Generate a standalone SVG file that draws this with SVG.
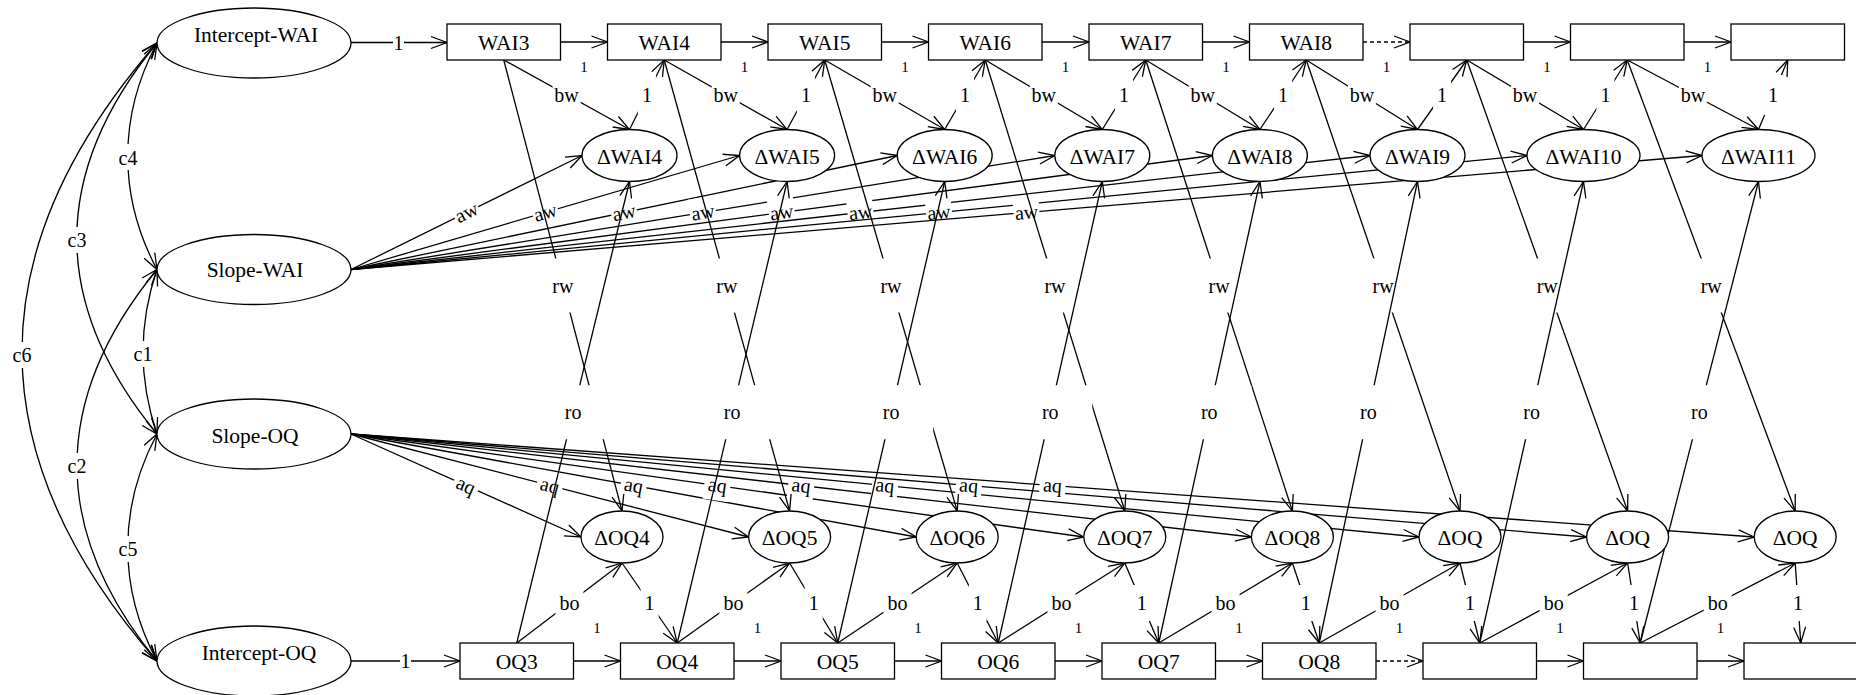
<svg xmlns="http://www.w3.org/2000/svg" width="1856" height="695" viewBox="0 0 1856 695">
<defs>
<marker id="ah" viewBox="0 0 18 14" refX="17" refY="7" markerWidth="18" markerHeight="14" markerUnits="userSpaceOnUse" orient="auto-start-reverse" overflow="visible"><path d="M1,1 L17,7 L1,13" fill="none" stroke="#000" stroke-width="1.3"/></marker>
</defs>
<style>
.e{stroke:#000;stroke-width:1.3;fill:none}
.a{marker-end:url(#ah)}
.b{marker-start:url(#ah);marker-end:url(#ah)}
.d{stroke-dasharray:4,3}
.n{fill:#fff;stroke:#000;stroke-width:1.3}
.bg{fill:#fff;stroke:none}
text{font-family:"Liberation Serif","Times New Roman",serif;font-size:20px;text-anchor:middle;fill:#000}
.nt{font-size:21.5px}
.s{font-size:15px}
</style>
<rect width="1856" height="695" fill="#fff"/>
<g id="connectors">
<!-- covariances -->
<path class="e b" d="M157,43 C118,116 118,196.5 157,269.5"/>
<path class="e b" d="M157,269.5 C138.3,324.5 138.3,379 157,434"/>
<path class="e b" d="M157,434 C118,507 118,588 157,661"/>
<path class="e b" d="M157,43 C50.3,173 50.3,304 157,434"/>
<path class="e b" d="M157,269.5 C50.3,399.5 50.3,531 157,661"/>
<path class="e b" d="M157,43 C-23,249 -23,455 157,661"/>
<rect class="bg" x="116" y="144" width="24" height="26"/><text x="128" y="165">c4</text>
<rect class="bg" x="131" y="341" width="24" height="26"/><text x="143" y="361">c1</text>
<rect class="bg" x="116" y="536" width="24" height="26"/><text x="128" y="556">c5</text>
<rect class="bg" x="65" y="227" width="24" height="26"/><text x="77" y="247">c3</text>
<rect class="bg" x="65" y="453" width="24" height="26"/><text x="77" y="473">c2</text>
<rect class="bg" x="10" y="342" width="24" height="26"/><text x="22" y="362">c6</text>
<!-- intercept loadings -->
<line class="e a" x1="351" y1="42.5" x2="447" y2="42.5"/>
<rect class="bg" x="393" y="30" width="11" height="25"/><text x="398.5" y="49.5">1</text>
<line class="e a" x1="351" y1="661" x2="460" y2="661"/>
<rect class="bg" x="400" y="648" width="11" height="25"/><text x="405.5" y="668">1</text>
<!-- top chain -->
<line class="e a" x1="560.5" y1="42" x2="607.5" y2="42"/>
<line class="e a" x1="721" y1="42" x2="768" y2="42"/>
<line class="e a" x1="881.5" y1="42" x2="928.5" y2="42"/>
<line class="e a" x1="1042" y1="42" x2="1089" y2="42"/>
<line class="e a" x1="1202.5" y1="42" x2="1249.5" y2="42"/>
<line class="e a d" x1="1363" y1="42" x2="1410" y2="42"/>
<line class="e a" x1="1523.5" y1="42" x2="1570.5" y2="42"/>
<line class="e a" x1="1684" y1="42" x2="1731" y2="42"/>
<text class="s" x="584" y="72">1</text><text class="s" x="744.5" y="72">1</text><text class="s" x="905" y="72">1</text><text class="s" x="1065.5" y="72">1</text><text class="s" x="1226" y="72">1</text><text class="s" x="1386.5" y="72">1</text><text class="s" x="1547" y="72">1</text><text class="s" x="1707.5" y="72">1</text>
<!-- bottom chain -->
<line class="e a" x1="573.5" y1="661" x2="620.5" y2="661"/>
<line class="e a" x1="734" y1="661" x2="781" y2="661"/>
<line class="e a" x1="894.5" y1="661" x2="941.5" y2="661"/>
<line class="e a" x1="1055" y1="661" x2="1102" y2="661"/>
<line class="e a" x1="1215.5" y1="661" x2="1262.5" y2="661"/>
<line class="e a d" x1="1376" y1="661" x2="1423" y2="661"/>
<line class="e a" x1="1536.5" y1="661" x2="1583.5" y2="661"/>
<line class="e a" x1="1697" y1="661" x2="1744" y2="661"/>
<text class="s" x="597" y="633">1</text><text class="s" x="757.5" y="633">1</text><text class="s" x="918" y="633">1</text><text class="s" x="1078.5" y="633">1</text><text class="s" x="1239" y="633">1</text><text class="s" x="1399.5" y="633">1</text><text class="s" x="1560" y="633">1</text><text class="s" x="1720.5" y="633">1</text>
<!-- aw -->
<line class="e a" x1="351" y1="269.5" x2="582" y2="155.5"/>
<g transform="translate(466.5,212.5) rotate(-26.27)"><rect class="bg" x="-13" y="-15" width="26" height="30"/><text y="6.5">aw</text></g>
<line class="e a" x1="351" y1="269.5" x2="739.6" y2="155.5"/>
<g transform="translate(545.3,212.5) rotate(-16.35)"><rect class="bg" x="-13" y="-15" width="26" height="30"/><text y="6.5">aw</text></g>
<line class="e a" x1="351" y1="269.5" x2="897.2" y2="155.5"/>
<g transform="translate(624.1,212.5) rotate(-11.79)"><rect class="bg" x="-13" y="-15" width="26" height="30"/><text y="6.5">aw</text></g>
<line class="e a" x1="351" y1="269.5" x2="1054.8" y2="155.5"/>
<g transform="translate(702.9,212.5) rotate(-9.2)"><rect class="bg" x="-13" y="-15" width="26" height="30"/><text y="6.5">aw</text></g>
<line class="e a" x1="351" y1="269.5" x2="1212.4" y2="155.5"/>
<g transform="translate(781.7,212.5) rotate(-7.54)"><rect class="bg" x="-13" y="-15" width="26" height="30"/><text y="6.5">aw</text></g>
<line class="e a" x1="351" y1="269.5" x2="1370" y2="155.5"/>
<g transform="translate(860.5,212.5) rotate(-6.38)"><rect class="bg" x="-13" y="-15" width="26" height="30"/><text y="6.5">aw</text></g>
<line class="e a" x1="351" y1="269.5" x2="1527" y2="155.5"/>
<g transform="translate(939,212.5) rotate(-5.54)"><rect class="bg" x="-13" y="-15" width="26" height="30"/><text y="6.5">aw</text></g>
<line class="e a" x1="351" y1="269.5" x2="1702" y2="155.5"/>
<g transform="translate(1026.5,212.5) rotate(-4.82)"><rect class="bg" x="-13" y="-15" width="26" height="30"/><text y="6.5">aw</text></g>
<!-- aq -->
<line class="e a" x1="351" y1="434" x2="581" y2="537"/>
<g transform="translate(466,485.5) rotate(24.12)"><rect class="bg" x="-13" y="-15" width="26" height="30"/><text y="6.5">aq</text></g>
<line class="e a" x1="351" y1="434" x2="748.6" y2="537"/>
<g transform="translate(549.8,485.5) rotate(14.52)"><rect class="bg" x="-13" y="-15" width="26" height="30"/><text y="6.5">aq</text></g>
<line class="e a" x1="351" y1="434" x2="916.2" y2="537"/>
<g transform="translate(633.6,485.5) rotate(10.33)"><rect class="bg" x="-13" y="-15" width="26" height="30"/><text y="6.5">aq</text></g>
<line class="e a" x1="351" y1="434" x2="1083.8" y2="537"/>
<g transform="translate(717.4,485.5) rotate(8)"><rect class="bg" x="-13" y="-15" width="26" height="30"/><text y="6.5">aq</text></g>
<line class="e a" x1="351" y1="434" x2="1251.4" y2="537"/>
<g transform="translate(801.2,485.5) rotate(6.53)"><rect class="bg" x="-13" y="-15" width="26" height="30"/><text y="6.5">aq</text></g>
<line class="e a" x1="351" y1="434" x2="1419" y2="537"/>
<g transform="translate(885,485.5) rotate(5.51)"><rect class="bg" x="-13" y="-15" width="26" height="30"/><text y="6.5">aq</text></g>
<line class="e a" x1="351" y1="434" x2="1586.6" y2="537"/>
<g transform="translate(968.8,485.5) rotate(4.76)"><rect class="bg" x="-13" y="-15" width="26" height="30"/><text y="6.5">aq</text></g>
<line class="e a" x1="351" y1="434" x2="1754.2" y2="537"/>
<g transform="translate(1052.6,485.5) rotate(4.2)"><rect class="bg" x="-13" y="-15" width="26" height="30"/><text y="6.5">aq</text></g>
<!-- bw -->
<line class="e a" x1="503.75" y1="60" x2="629.5" y2="129.5"/>
<line class="e a" x1="664.25" y1="60" x2="787.1" y2="129.5"/>
<line class="e a" x1="824.75" y1="60" x2="944.7" y2="129.5"/>
<line class="e a" x1="985.25" y1="60" x2="1102.3" y2="129.5"/>
<line class="e a" x1="1145.75" y1="60" x2="1259.9" y2="129.5"/>
<line class="e a" x1="1306.25" y1="60" x2="1417.5" y2="129.5"/>
<line class="e a" x1="1466.75" y1="60" x2="1583.5" y2="129.5"/>
<line class="e a" x1="1627.25" y1="60" x2="1758.5" y2="129.5"/>
<rect class="bg" x="552.6" y="75" width="28" height="40"/><text x="566.6" y="101.5">bw</text>
<rect class="bg" x="711.7" y="75" width="28" height="40"/><text x="725.7" y="101.5">bw</text>
<rect class="bg" x="870.7" y="75" width="28" height="40"/><text x="884.7" y="101.5">bw</text>
<rect class="bg" x="1029.8" y="75" width="28" height="40"/><text x="1043.8" y="101.5">bw</text>
<rect class="bg" x="1188.8" y="75" width="28" height="40"/><text x="1202.8" y="101.5">bw</text>
<rect class="bg" x="1347.9" y="75" width="28" height="40"/><text x="1361.9" y="101.5">bw</text>
<rect class="bg" x="1511.1" y="75" width="28" height="40"/><text x="1525.1" y="101.5">bw</text>
<rect class="bg" x="1678.9" y="75" width="28" height="40"/><text x="1692.9" y="101.5">bw</text>
<!-- 1 : dWAI -> WAI -->
<line class="e a" x1="629.5" y1="129.5" x2="664.25" y2="60"/>
<line class="e a" x1="787.1" y1="129.5" x2="824.75" y2="60"/>
<line class="e a" x1="944.7" y1="129.5" x2="985.25" y2="60"/>
<line class="e a" x1="1102.3" y1="129.5" x2="1145.75" y2="60"/>
<line class="e a" x1="1259.9" y1="129.5" x2="1306.25" y2="60"/>
<line class="e a" x1="1417.5" y1="129.5" x2="1466.75" y2="60"/>
<line class="e a" x1="1583.5" y1="129.5" x2="1627.25" y2="60"/>
<line class="e a" x1="1758.5" y1="129.5" x2="1787.75" y2="60"/>
<rect class="bg" x="637.9" y="75" width="18" height="40"/><text x="646.9" y="101.5">1</text>
<rect class="bg" x="796.9" y="75" width="18" height="40"/><text x="805.9" y="101.5">1</text>
<rect class="bg" x="956" y="75" width="18" height="40"/><text x="965" y="101.5">1</text>
<rect class="bg" x="1115" y="75" width="18" height="40"/><text x="1124" y="101.5">1</text>
<rect class="bg" x="1274.1" y="75" width="18" height="40"/><text x="1283.1" y="101.5">1</text>
<rect class="bg" x="1433.1" y="75" width="18" height="40"/><text x="1442.1" y="101.5">1</text>
<rect class="bg" x="1596.4" y="75" width="18" height="40"/><text x="1605.4" y="101.5">1</text>
<rect class="bg" x="1764.1" y="75" width="18" height="40"/><text x="1773.1" y="101.5">1</text>
<!-- bo -->
<line class="e a" x1="516.75" y1="643" x2="622" y2="563"/>
<line class="e a" x1="677.25" y1="643" x2="789.6" y2="563"/>
<line class="e a" x1="837.75" y1="643" x2="957.2" y2="563"/>
<line class="e a" x1="998.25" y1="643" x2="1124.8" y2="563"/>
<line class="e a" x1="1158.75" y1="643" x2="1292.4" y2="563"/>
<line class="e a" x1="1319.25" y1="643" x2="1460" y2="563"/>
<line class="e a" x1="1479.75" y1="643" x2="1627.6" y2="563"/>
<line class="e a" x1="1640.25" y1="643" x2="1795.2" y2="563"/>
<rect class="bg" x="555.4" y="583" width="28" height="40"/><text x="569.4" y="610">bo</text>
<rect class="bg" x="719.4" y="583" width="28" height="40"/><text x="733.4" y="610">bo</text>
<rect class="bg" x="883.5" y="583" width="28" height="40"/><text x="897.5" y="610">bo</text>
<rect class="bg" x="1047.5" y="583" width="28" height="40"/><text x="1061.5" y="610">bo</text>
<rect class="bg" x="1211.6" y="583" width="28" height="40"/><text x="1225.6" y="610">bo</text>
<rect class="bg" x="1375.6" y="583" width="28" height="40"/><text x="1389.6" y="610">bo</text>
<rect class="bg" x="1539.7" y="583" width="28" height="40"/><text x="1553.7" y="610">bo</text>
<rect class="bg" x="1703.7" y="583" width="28" height="40"/><text x="1717.7" y="610">bo</text>
<!-- 1 : dOQ -> OQ -->
<line class="e a" x1="622" y1="563" x2="677.25" y2="643"/>
<line class="e a" x1="789.6" y1="563" x2="837.75" y2="643"/>
<line class="e a" x1="957.2" y1="563" x2="998.25" y2="643"/>
<line class="e a" x1="1124.8" y1="563" x2="1158.75" y2="643"/>
<line class="e a" x1="1292.4" y1="563" x2="1319.25" y2="643"/>
<line class="e a" x1="1460" y1="563" x2="1479.75" y2="643"/>
<line class="e a" x1="1627.6" y1="563" x2="1640.25" y2="643"/>
<line class="e a" x1="1795.2" y1="563" x2="1800.75" y2="643"/>
<rect class="bg" x="640.6" y="585" width="18" height="36"/><text x="649.6" y="610">1</text>
<rect class="bg" x="804.7" y="585" width="18" height="36"/><text x="813.7" y="610">1</text>
<rect class="bg" x="968.7" y="585" width="18" height="36"/><text x="977.7" y="610">1</text>
<rect class="bg" x="1132.8" y="585" width="18" height="36"/><text x="1141.8" y="610">1</text>
<rect class="bg" x="1296.8" y="585" width="18" height="36"/><text x="1305.8" y="610">1</text>
<rect class="bg" x="1460.9" y="585" width="18" height="36"/><text x="1469.9" y="610">1</text>
<rect class="bg" x="1624.9" y="585" width="18" height="36"/><text x="1633.9" y="610">1</text>
<rect class="bg" x="1789" y="585" width="18" height="36"/><text x="1798" y="610">1</text>
<!-- rw -->
<line class="e a" x1="503.75" y1="60" x2="622" y2="511"/>
<line class="e a" x1="664.25" y1="60" x2="789.6" y2="511"/>
<line class="e a" x1="824.75" y1="60" x2="957.2" y2="511"/>
<line class="e a" x1="985.25" y1="60" x2="1124.8" y2="511"/>
<line class="e a" x1="1145.75" y1="60" x2="1292.4" y2="511"/>
<line class="e a" x1="1306.25" y1="60" x2="1460" y2="511"/>
<line class="e a" x1="1466.75" y1="60" x2="1627.6" y2="511"/>
<line class="e a" x1="1627.25" y1="60" x2="1795.2" y2="511"/>
<rect class="bg" x="520.9" y="258.5" width="84" height="54"/><text x="562.9" y="292.5">rw</text>
<rect class="bg" x="684.9" y="258.5" width="84" height="54"/><text x="726.9" y="292.5">rw</text>
<rect class="bg" x="849" y="258.5" width="84" height="54"/><text x="891" y="292.5">rw</text>
<rect class="bg" x="1013" y="258.5" width="84" height="54"/><text x="1055" y="292.5">rw</text>
<rect class="bg" x="1177.1" y="258.5" width="84" height="54"/><text x="1219.1" y="292.5">rw</text>
<rect class="bg" x="1341.1" y="258.5" width="84" height="54"/><text x="1383.1" y="292.5">rw</text>
<rect class="bg" x="1505.2" y="258.5" width="84" height="54"/><text x="1547.2" y="292.5">rw</text>
<rect class="bg" x="1669.2" y="258.5" width="84" height="54"/><text x="1711.2" y="292.5">rw</text>
<!-- ro -->
<line class="e a" x1="516.75" y1="643" x2="629.5" y2="181.5"/>
<line class="e a" x1="677.25" y1="643" x2="787.1" y2="181.5"/>
<line class="e a" x1="837.75" y1="643" x2="944.7" y2="181.5"/>
<line class="e a" x1="998.25" y1="643" x2="1102.3" y2="181.5"/>
<line class="e a" x1="1158.75" y1="643" x2="1259.9" y2="181.5"/>
<line class="e a" x1="1319.25" y1="643" x2="1417.5" y2="181.5"/>
<line class="e a" x1="1479.75" y1="643" x2="1583.5" y2="181.5"/>
<line class="e a" x1="1640.25" y1="643" x2="1758.5" y2="181.5"/>
<rect class="bg" x="531.1" y="385.25" width="84" height="54"/><text x="573.1" y="419">ro</text>
<rect class="bg" x="690.2" y="385.25" width="84" height="54"/><text x="732.2" y="419">ro</text>
<rect class="bg" x="849.2" y="385.25" width="84" height="54"/><text x="891.2" y="419">ro</text>
<rect class="bg" x="1008.3" y="385.25" width="84" height="54"/><text x="1050.3" y="419">ro</text>
<rect class="bg" x="1167.3" y="385.25" width="84" height="54"/><text x="1209.3" y="419">ro</text>
<rect class="bg" x="1326.4" y="385.25" width="84" height="54"/><text x="1368.4" y="419">ro</text>
<rect class="bg" x="1489.6" y="385.25" width="84" height="54"/><text x="1531.6" y="419">ro</text>
<rect class="bg" x="1657.4" y="385.25" width="84" height="54"/><text x="1699.4" y="419">ro</text>
</g>
<g id="intercept-wai"><ellipse class="n" cx="254" cy="43" rx="97" ry="35"/><text class="nt" x="256" y="42">Intercept-WAI</text></g>
<g id="slope-wai"><ellipse class="n" cx="254" cy="269.5" rx="97" ry="35"/><text class="nt" x="255" y="277">Slope-WAI</text></g>
<g id="slope-oq"><ellipse class="n" cx="254" cy="434" rx="97" ry="35"/><text class="nt" x="255" y="443">Slope-OQ</text></g>
<g id="intercept-oq"><ellipse class="n" cx="254" cy="661" rx="97" ry="35"/><text class="nt" x="259" y="660">Intercept-OQ</text></g>
<g id="wai3"><rect class="n" x="447" y="24" width="113.5" height="36"/><text class="nt" x="503.75" y="50">WAI3</text></g>
<g id="wai4"><rect class="n" x="607.5" y="24" width="113.5" height="36"/><text class="nt" x="664.25" y="50">WAI4</text></g>
<g id="wai5"><rect class="n" x="768" y="24" width="113.5" height="36"/><text class="nt" x="824.75" y="50">WAI5</text></g>
<g id="wai6"><rect class="n" x="928.5" y="24" width="113.5" height="36"/><text class="nt" x="985.25" y="50">WAI6</text></g>
<g id="wai7"><rect class="n" x="1089" y="24" width="113.5" height="36"/><text class="nt" x="1145.75" y="50">WAI7</text></g>
<g id="wai8"><rect class="n" x="1249.5" y="24" width="113.5" height="36"/><text class="nt" x="1306.25" y="50">WAI8</text></g>
<g id="wai9"><rect class="n" x="1410" y="24" width="113.5" height="36"/></g>
<g id="wai10"><rect class="n" x="1570.5" y="24" width="113.5" height="36"/></g>
<g id="wai11"><rect class="n" x="1731" y="24" width="113.5" height="36"/></g>
<g id="oq3"><rect class="n" x="460" y="643" width="113.5" height="36"/><text class="nt" x="516.75" y="668.5">OQ3</text></g>
<g id="oq4"><rect class="n" x="620.5" y="643" width="113.5" height="36"/><text class="nt" x="677.25" y="668.5">OQ4</text></g>
<g id="oq5"><rect class="n" x="781" y="643" width="113.5" height="36"/><text class="nt" x="837.75" y="668.5">OQ5</text></g>
<g id="oq6"><rect class="n" x="941.5" y="643" width="113.5" height="36"/><text class="nt" x="998.25" y="668.5">OQ6</text></g>
<g id="oq7"><rect class="n" x="1102" y="643" width="113.5" height="36"/><text class="nt" x="1158.75" y="668.5">OQ7</text></g>
<g id="oq8"><rect class="n" x="1262.5" y="643" width="113.5" height="36"/><text class="nt" x="1319.25" y="668.5">OQ8</text></g>
<g id="oq9"><rect class="n" x="1423" y="643" width="113.5" height="36"/></g>
<g id="oq10"><rect class="n" x="1583.5" y="643" width="113.5" height="36"/></g>
<g id="oq11"><rect class="n" x="1744" y="643" width="113.5" height="36"/></g>
<g id="dwai4"><ellipse class="n" cx="629.5" cy="155.5" rx="47.5" ry="26"/><text class="nt" x="629.5" y="164">ΔWAI4</text></g>
<g id="dwai5"><ellipse class="n" cx="787.1" cy="155.5" rx="47.5" ry="26"/><text class="nt" x="787.1" y="164">ΔWAI5</text></g>
<g id="dwai6"><ellipse class="n" cx="944.7" cy="155.5" rx="47.5" ry="26"/><text class="nt" x="944.7" y="164">ΔWAI6</text></g>
<g id="dwai7"><ellipse class="n" cx="1102.3" cy="155.5" rx="47.5" ry="26"/><text class="nt" x="1102.3" y="164">ΔWAI7</text></g>
<g id="dwai8"><ellipse class="n" cx="1259.9" cy="155.5" rx="47.5" ry="26"/><text class="nt" x="1259.9" y="164">ΔWAI8</text></g>
<g id="dwai9"><ellipse class="n" cx="1417.5" cy="155.5" rx="47.5" ry="26"/><text class="nt" x="1417.5" y="164">ΔWAI9</text></g>
<g id="dwai10"><ellipse class="n" cx="1583.5" cy="155.5" rx="56.5" ry="26"/><text class="nt" x="1583.5" y="164">ΔWAI10</text></g>
<g id="dwai11"><ellipse class="n" cx="1758.5" cy="155.5" rx="56.5" ry="26"/><text class="nt" x="1758.5" y="164">ΔWAI11</text></g>
<g id="doq4"><ellipse class="n" cx="622" cy="537" rx="41" ry="26"/><text class="nt" x="622" y="544.5">ΔOQ4</text></g>
<g id="doq5"><ellipse class="n" cx="789.6" cy="537" rx="41" ry="26"/><text class="nt" x="789.6" y="544.5">ΔOQ5</text></g>
<g id="doq6"><ellipse class="n" cx="957.2" cy="537" rx="41" ry="26"/><text class="nt" x="957.2" y="544.5">ΔOQ6</text></g>
<g id="doq7"><ellipse class="n" cx="1124.8" cy="537" rx="41" ry="26"/><text class="nt" x="1124.8" y="544.5">ΔOQ7</text></g>
<g id="doq8"><ellipse class="n" cx="1292.4" cy="537" rx="41" ry="26"/><text class="nt" x="1292.4" y="544.5">ΔOQ8</text></g>
<g id="doq9"><ellipse class="n" cx="1460" cy="537" rx="41" ry="26"/><text class="nt" x="1460" y="544.5">ΔOQ</text></g>
<g id="doq10"><ellipse class="n" cx="1627.6" cy="537" rx="41" ry="26"/><text class="nt" x="1627.6" y="544.5">ΔOQ</text></g>
<g id="doq11"><ellipse class="n" cx="1795.2" cy="537" rx="41" ry="26"/><text class="nt" x="1795.2" y="544.5">ΔOQ</text></g>
</svg>
